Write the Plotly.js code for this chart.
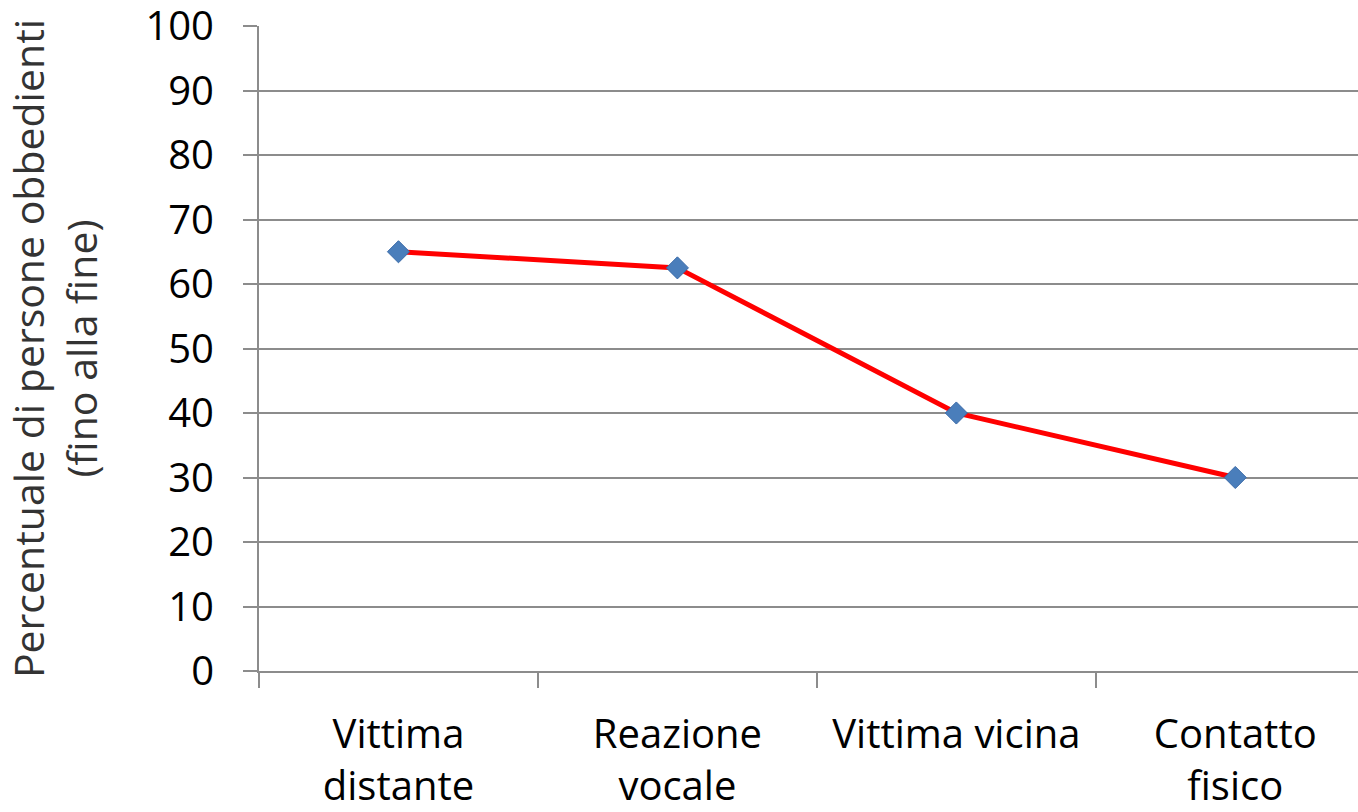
<!DOCTYPE html>
<html><head><meta charset="utf-8">
<script src="https://cdn.plot.ly/plotly-3.0.1.min.js"></script>
<style>html,body{margin:0;padding:0;background:#fff}#chart{width:1358px;height:812px}</style>
</head><body><div id="chart"></div>
<script>
const categories = ["Vittima<br>distante", "Reazione<br>vocale", "Vittima vicina", "Contatto<br>fisico"];
const values = [65, 62.5, 40, 30];
const yTicks = [0,10,20,30,40,50,60,70,80,90,100];

const FONT = "'Open Sans', sans-serif";
const TFONT = "'Open Sans', sans-serif";
Plotly.newPlot('chart', [{
  x: categories, y: values, type: 'scatter', mode: 'lines+markers',
  line: {color: '#ff0000', width: 5},
  marker: {symbol: 'diamond', size: 17, color: '#4a7ebb', line: {color: '#3a6aa8', width: 1}},
  showlegend: false
}], {
  width: 1358, height: 812,
  margin: {l: 259, r: 0, t: 26, b: 141},
  paper_bgcolor: '#fff', plot_bgcolor: '#fff',
  font: {family: FONT, size: 40, color: '#000'},
  xaxis: {
    type: 'category', range: [-0.5, 3.44], tickson: 'boundaries',
    ticks: 'outside', ticklen: 15, tickwidth: 2, tickcolor: '#8c8c8c',
    showgrid: false, showline: true, linecolor: '#8c8c8c', linewidth: 2,
    zeroline: false, tickfont: {family: FONT, size: 40, color: '#000'}, automargin: false,
    ticklabelstandoff: 27, ticklabeloverflow: 'allow'
  },
  yaxis: {
    range: [0, 100], tickvals: yTicks, ticks: 'outside', ticklen: 14, tickwidth: 2, tickcolor: '#8c8c8c',
    showgrid: true, gridcolor: '#8c8c8c', gridwidth: 2,
    showline: true, linecolor: '#8c8c8c', linewidth: 2, zeroline: false,
    tickfont: {family: FONT, size: 40, color: '#000'}, ticklabelstandoff: 21, ticklabeloverflow: 'allow',
    title: {text: 'Percentuale di persone obbedienti<br>(fino alla fine)', font: {family: TFONT, size: 41, color: '#333333'}, standoff: 37},
    automargin: false
  }
}, {displayModeBar: false});
</script></body></html>
